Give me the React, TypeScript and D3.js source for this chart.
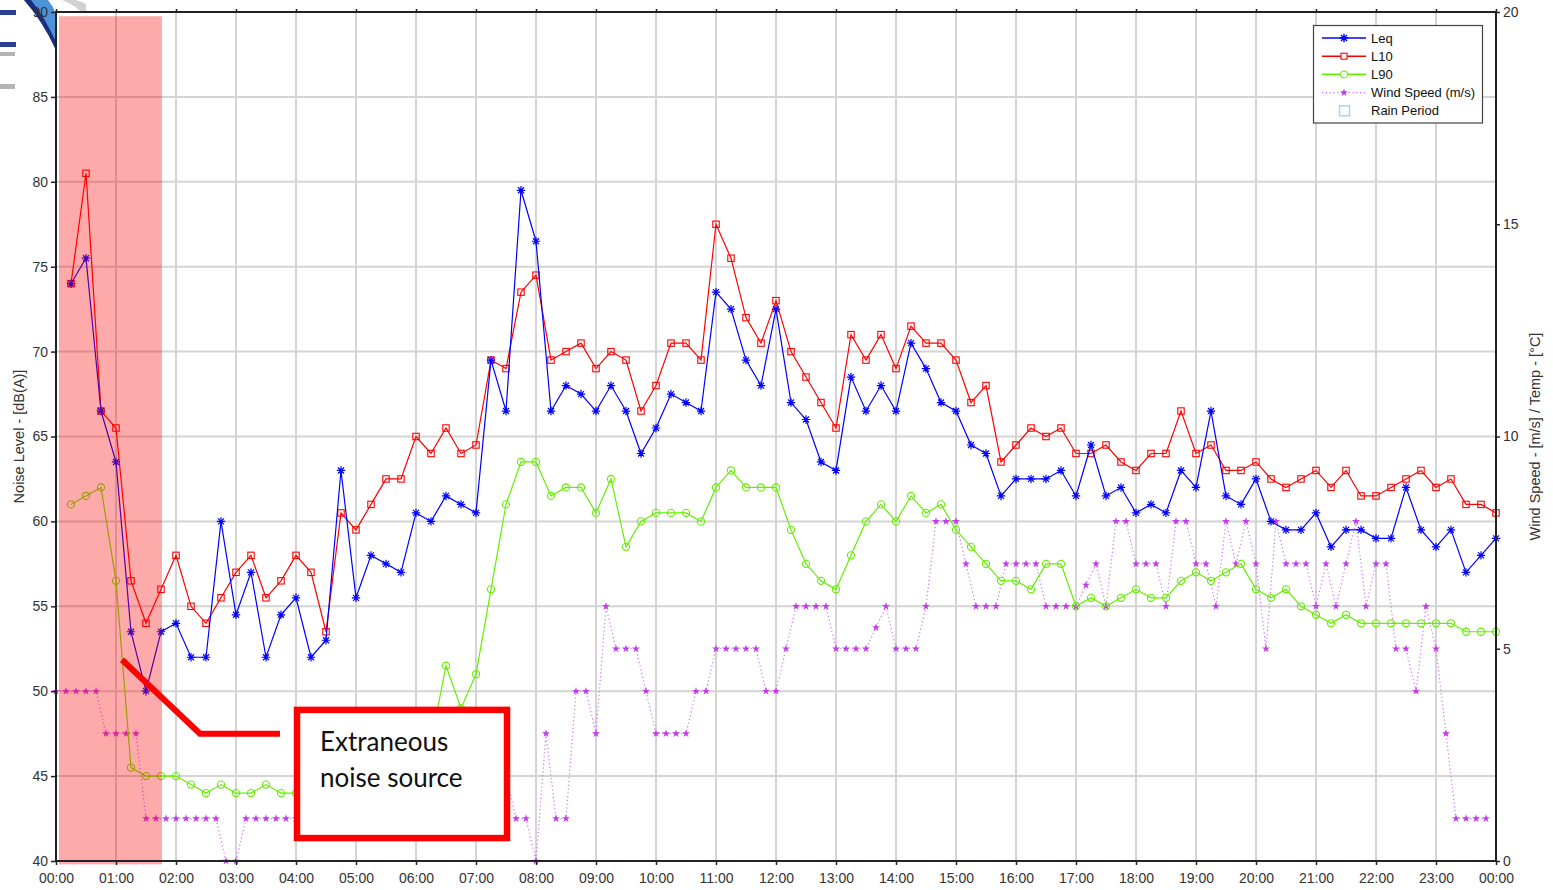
import { useEffect, useRef } from "react";
import * as d3 from "d3";

// 15-minute noise levels, first value at 00:15, last at 24:00
const leq = [
  74, 75.5, 66.5, 63.5, 53.5, 50, 53.5, 54, 52, 52, 60, 54.5,
  57, 52, 54.5, 55.5, 52, 53, 63, 55.5, 58, 57.5, 57, 60.5,
  60, 61.5, 61, 60.5, 69.5, 66.5, 79.5, 76.5, 66.5, 68, 67.5, 66.5,
  68, 66.5, 64, 65.5, 67.5, 67, 66.5, 73.5, 72.5, 69.5, 68, 72.5,
  67, 66, 63.5, 63, 68.5, 66.5, 68, 66.5, 70.5, 69, 67, 66.5,
  64.5, 64, 61.5, 62.5, 62.5, 62.5, 63, 61.5, 64.5, 61.5, 62, 60.5,
  61, 60.5, 63, 62, 66.5, 61.5, 61, 62.5, 60, 59.5, 59.5, 60.5,
  58.5, 59.5, 59.5, 59, 59, 62, 59.5, 58.5, 59.5, 57, 58, 59,
];
const l10 = [
  74, 80.5, 66.5, 65.5, 56.5, 54, 56, 58, 55, 54, 55.5, 57,
  58, 55.5, 56.5, 58, 57, 53.5, 60.5, 59.5, 61, 62.5, 62.5, 65,
  64, 65.5, 64, 64.5, 69.5, 69, 73.5, 74.5, 69.5, 70, 70.5, 69,
  70, 69.5, 66.5, 68, 70.5, 70.5, 69.5, 77.5, 75.5, 72, 70.5, 73,
  70, 68.5, 67, 65.5, 71, 69.5, 71, 69, 71.5, 70.5, 70.5, 69.5,
  67, 68, 63.5, 64.5, 65.5, 65, 65.5, 64, 64, 64.5, 63.5, 63,
  64, 64, 66.5, 64, 64.5, 63, 63, 63.5, 62.5, 62, 62.5, 63,
  62, 63, 61.5, 61.5, 62, 62.5, 63, 62, 62.5, 61, 61, 60.5,
];
const l90 = [
  61, 61.5, 62, 56.5, 45.5, 45, 45, 45, 44.5, 44, 44.5, 44,
  44, 44.5, 44, 44, 44.5, 44, 45, 44.5, 44, 44.5, 45, 44.5,
  47, 51.5, 49, 51, 56, 61, 63.5, 63.5, 61.5, 62, 62, 60.5,
  62.5, 58.5, 60, 60.5, 60.5, 60.5, 60, 62, 63, 62, 62, 62,
  59.5, 57.5, 56.5, 56, 58, 60, 61, 60, 61.5, 60.5, 61, 59.5,
  58.5, 57.5, 56.5, 56.5, 56, 57.5, 57.5, 55, 55.5, 55, 55.5, 56,
  55.5, 55.5, 56.5, 57, 56.5, 57, 57.5, 56, 55.5, 56, 55, 54.5,
  54, 54.5, 54, 54, 54, 54, 54, 54, 54, 53.5, 53.5, 53.5,
];
// 10-minute wind speed (m/s), 00:00 .. 23:50
const wind = [
  4, 4, 4, 4, 4, 3, 3, 3, 3, 1, 1, 1,
  1, 1, 1, 1, 1, 0, 0, 1, 1, 1, 1, 1,
  1, 1, 1, 1, 1, 1, 1, 1, 2, 2, 1, 1,
  1, 1, 2, 2, 1, 1, 1, 1, 2, 2, 1, 1,
  0, 3, 1, 1, 4, 4, 3, 6, 5, 5, 5, 4,
  3, 3, 3, 3, 4, 4, 5, 5, 5, 5, 5, 4,
  4, 5, 6, 6, 6, 6, 5, 5, 5, 5, 5.5, 6,
  5, 5, 5, 6, 8, 8, 8, 7, 6, 6, 6, 7,
  7, 7, 7, 6, 6, 6, 6, 6.5, 7, 6, 8, 8,
  7, 7, 7, 6, 8, 8, 7, 7, 6, 8, 7, 8,
  7, 5, 8, 7, 7, 7, 6, 7, 6, 7, 8, 6,
  7, 7, 5, 5, 4, 6, 5, 3, 1, 1, 1, 1,
];

const hourLabels = [
  "00:00", "01:00", "02:00", "03:00", "04:00", "05:00", "06:00", "07:00", "08:00",
  "09:00", "10:00", "11:00", "12:00", "13:00", "14:00", "15:00", "16:00", "17:00",
  "18:00", "19:00", "20:00", "21:00", "22:00", "23:00", "00:00",
];
const leftTicks = [40, 45, 50, 55, 60, 65, 70, 75, 80, 85, 90];
const rightTicks = [0, 5, 10, 15, 20];
const legendLabels = ["Leq", "L10", "L90", "Wind Speed (m/s)", "Rain Period"];
const noteLines = ["Extraneous", "noise source"];
// shaded period (minutes) and annotation anchors (minutes, dB)
const shadeMinutes = [3, 106];
const shadeLevels = [39.8, 89.75];
const leader: [number, number][] = [[66, 51.85], [144, 47.5], [224, 47.5]];
const noteBox = { m0: 241, m1: 451, v0: 48.9, v1: 41.35 };

const W = 1553;
const H = 890;
const M = { left: 56, right: 1496, top: 12, bottom: 861 };
const FONT = "'Liberation Sans', Arial, sans-serif";

const C = {
  leq: "#0000ff",
  l10: "#ff0000",
  l90: "#66ee00",
  wind: "#d070ff",
  windMark: "#c33ae8",
  grid: "#d4d4d4",
  axis: "#222",
  text: "#333",
};

const asterisk = "M-4.2,0H4.2M0,-4.2V4.2M-3,-3L3,3M-3,3L3,-3";

export default function App() {
  const svgRef = useRef<SVGSVGElement>(null);

  useEffect(() => {
    const svg = d3.select(svgRef.current!);
    svg.selectAll("*").remove();

    const x = d3.scaleLinear().domain([0, 1440]).range([M.left, M.right]);
    const yL = d3.scaleLinear().domain([40, 90]).range([M.bottom, M.top]);
    const yR = d3.scaleLinear().domain([0, 20]).range([M.bottom, M.top]);

    // logo peeking out behind the chart
    const logo = svg.append("g");
    logo.append("path")
      .attr("d", "M62,0 Q76,5 86,17 L86,4 Q81,1 75,0 Z")
      .attr("fill", "#d2d2d2");
    logo.append("path")
      .attr("d", "M24,0 Q42,20 56,50 L56,14 Q53,6 48,0 Z")
      .attr("fill", "#4d93d8");
    logo.append("path")
      .attr("d", "M24,0 Q42,20 56,50 L56,42 Q44,16 31,0 Z")
      .attr("fill", "#1d2e7a");
    logo.append("rect").attr("x", 0).attr("y", 10).attr("width", 16).attr("height", 5).attr("fill", "#2a3f95");
    logo.append("rect").attr("x", 0).attr("y", 42).attr("width", 16).attr("height", 5).attr("fill", "#2a3f95");
    logo.append("rect").attr("x", 0).attr("y", 52).attr("width", 15).attr("height", 4).attr("fill", "#b4b4b4");
    logo.append("rect").attr("x", 0).attr("y", 84).attr("width", 15).attr("height", 5).attr("fill", "#b4b4b4");

    svg.append("rect")
      .attr("x", M.left).attr("y", M.top)
      .attr("width", M.right - M.left).attr("height", M.bottom - M.top)
      .attr("fill", "#fff");

    // grid
    const hourMinutes = hourLabels.map((_, i) => i * 60);
    const grid = svg.append("g").attr("stroke", C.grid).attr("stroke-width", 2);
    grid.selectAll("line.v")
      .data(hourMinutes.slice(1, -1))
      .join("line")
      .attr("x1", (d) => x(d)).attr("x2", (d) => x(d))
      .attr("y1", M.top).attr("y2", M.bottom);
    grid.selectAll("line.h")
      .data(leftTicks.slice(1, -1))
      .join("line")
      .attr("class", "h")
      .attr("x1", M.left).attr("x2", M.right)
      .attr("y1", (d) => yL(d)).attr("y2", (d) => yL(d));

    const q = (arr: number[]) => arr.map((v, i) => [(i + 1) * 15, v] as [number, number]);
    const leqPts = q(leq);
    const l10Pts = q(l10);
    const l90Pts = q(l90);
    const windPts = wind.map((v, i) => [i * 10, v] as [number, number]);

    const lineL = d3.line<[number, number]>().x((d) => x(d[0])).y((d) => yL(d[1]));
    const lineR = d3.line<[number, number]>().x((d) => x(d[0])).y((d) => yR(d[1]));

    const plot = svg.append("g");

    // wind
    plot.append("path").datum(windPts).attr("d", lineR)
      .attr("fill", "none").attr("stroke", C.wind).attr("stroke-width", 1.2)
      .attr("stroke-dasharray", "1.2 2.6");
    const starPath = d3.symbol(d3.symbolStar, 20)()!;
    plot.append("g").selectAll("path").data(windPts).join("path")
      .attr("d", starPath)
      .attr("transform", (d) => `translate(${x(d[0])},${yR(d[1])})`)
      .attr("fill", C.windMark);

    // L90
    plot.append("path").datum(l90Pts).attr("d", lineL)
      .attr("fill", "none").attr("stroke", C.l90).attr("stroke-width", 1.2);
    plot.append("g").selectAll("circle").data(l90Pts).join("circle")
      .attr("cx", (d) => x(d[0])).attr("cy", (d) => yL(d[1])).attr("r", 3.6)
      .attr("fill", "none").attr("stroke", C.l90).attr("stroke-width", 1.1);

    // L10
    plot.append("path").datum(l10Pts).attr("d", lineL)
      .attr("fill", "none").attr("stroke", C.l10).attr("stroke-width", 1.2);
    plot.append("g").selectAll("rect").data(l10Pts).join("rect")
      .attr("x", (d) => x(d[0]) - 3.2).attr("y", (d) => yL(d[1]) - 3.2)
      .attr("width", 6.4).attr("height", 6.4)
      .attr("fill", "none").attr("stroke", C.l10).attr("stroke-width", 1.1);

    // Leq
    plot.append("path").datum(leqPts).attr("d", lineL)
      .attr("fill", "none").attr("stroke", C.leq).attr("stroke-width", 1.2);
    plot.append("g").selectAll("path").data(leqPts).join("path")
      .attr("d", asterisk)
      .attr("transform", (d) => `translate(${x(d[0])},${yL(d[1])})`)
      .attr("fill", "none").attr("stroke", C.leq).attr("stroke-width", 1.2);

    // shaded period, laid over the data
    svg.append("rect")
      .attr("x", x(shadeMinutes[0])).attr("y", yL(shadeLevels[1]))
      .attr("width", x(shadeMinutes[1]) - x(shadeMinutes[0]))
      .attr("height", yL(shadeLevels[0]) - yL(shadeLevels[1]))
      .attr("fill", "#ff0000").attr("fill-opacity", 0.333);

    // frame
    svg.append("rect")
      .attr("x", M.left).attr("y", M.top)
      .attr("width", M.right - M.left).attr("height", M.bottom - M.top)
      .attr("fill", "none").attr("stroke", C.axis).attr("stroke-width", 2);

    const style = (sel: d3.Selection<SVGGElement, unknown, null, undefined>) => {
      sel.select(".domain").remove();
      sel.selectAll("line").attr("stroke", C.axis).attr("stroke-width", 1.5);
      sel.selectAll("text").attr("fill", C.text).style("font-family", FONT).style("font-size", "14px");
    };

    svg.append("g").attr("transform", `translate(${M.left},0)`)
      .call(d3.axisLeft(yL).tickValues(leftTicks).tickSize(5).tickPadding(3).tickFormat(d3.format("d")))
      .call(style);
    svg.append("g").attr("transform", `translate(${M.right},0)`)
      .call(d3.axisRight(yR).tickValues(rightTicks).tickSize(4).tickPadding(3).tickFormat(d3.format("d")))
      .call(style);
    svg.append("g").attr("transform", `translate(0,${M.bottom})`)
      .call(d3.axisBottom(x).tickValues(hourMinutes).tickSize(4).tickPadding(8.5)
        .tickFormat((_, i) => hourLabels[i]))
      .call(style);
    svg.append("g").attr("transform", `translate(0,${M.top})`)
      .call(d3.axisTop(x).tickValues(hourMinutes).tickSize(3).tickFormat(() => ""))
      .call(style);

    // axis titles
    svg.append("text")
      .attr("transform", `translate(23.5,${(M.top + M.bottom) / 2}) rotate(-90)`)
      .attr("text-anchor", "middle").attr("fill", C.text)
      .style("font-family", FONT).style("font-size", "14.5px")
      .text("Noise Level - [dB(A)]");
    svg.append("text")
      .attr("transform", `translate(1540,${(M.top + M.bottom) / 2}) rotate(-90)`)
      .attr("text-anchor", "middle").attr("fill", C.text)
      .style("font-family", FONT).style("font-size", "14.5px")
      .text("Wind Speed - [m/s] / Temp - [°C]");

    // annotation
    svg.append("path").datum(leader).attr("d", lineL)
      .attr("fill", "none").attr("stroke", "#ff0000").attr("stroke-width", 6);
    svg.append("rect")
      .attr("x", x(noteBox.m0)).attr("y", yL(noteBox.v0))
      .attr("width", x(noteBox.m1) - x(noteBox.m0))
      .attr("height", yL(noteBox.v1) - yL(noteBox.v0))
      .attr("fill", "#fff").attr("stroke", "#ff0000").attr("stroke-width", 6.5);
    svg.append("g").selectAll("text").data(noteLines).join("text")
      .attr("x", x(noteBox.m0) + 23)
      .attr("y", (_, i) => yL(noteBox.v0) + 41 + i * 36)
      .attr("fill", "#111")
      .style("font-family", "Lato, 'Open Sans', sans-serif").style("font-size", "26px")
      .text((d) => d);

    // legend
    const lg = svg.append("g").attr("transform", "translate(1313,25)");
    lg.append("rect").attr("x", 0.5).attr("y", 0.5).attr("width", 169).attr("height", 97.5)
      .attr("fill", "#fff").attr("stroke", "#444").attr("stroke-width", 1.2);
    const rowY = (i: number) => 13 + i * 18.2;
    legendLabels.forEach((label, i) => {
      const row = lg.append("g").attr("transform", `translate(0,${rowY(i)})`);
      if (i === 0) {
        row.append("line").attr("x1", 9).attr("x2", 53).attr("stroke", C.leq).attr("stroke-width", 1.6);
        row.append("path").attr("d", asterisk).attr("transform", "translate(31,0)")
          .attr("stroke", C.leq).attr("stroke-width", 1.4).attr("fill", "none");
      } else if (i === 1) {
        row.append("line").attr("x1", 9).attr("x2", 53).attr("stroke", C.l10).attr("stroke-width", 1.6);
        row.append("rect").attr("x", 28).attr("y", -3).attr("width", 6).attr("height", 6)
          .attr("fill", "#fff").attr("stroke", C.l10).attr("stroke-width", 1.1);
      } else if (i === 2) {
        row.append("line").attr("x1", 9).attr("x2", 53).attr("stroke", C.l90).attr("stroke-width", 1.6);
        row.append("circle").attr("cx", 31).attr("r", 3.4)
          .attr("fill", "#fff").attr("stroke", C.l90).attr("stroke-width", 1.1);
      } else if (i === 3) {
        row.append("line").attr("x1", 9).attr("x2", 53).attr("stroke", C.wind)
          .attr("stroke-width", 1.3).attr("stroke-dasharray", "1.2 2.6");
        row.append("path").attr("d", starPath).attr("transform", "translate(31,0)").attr("fill", C.windMark);
      } else {
        row.append("rect").attr("x", 26.5).attr("y", -5).attr("width", 10).attr("height", 10)
          .attr("fill", "#fff").attr("stroke", "#8fd3f5").attr("stroke-width", 1.3);
      }
      row.append("text").attr("x", 58).attr("dy", "0.35em").attr("fill", "#111")
        .style("font-family", FONT).style("font-size", "13px").text(label);
    });
  }, []);

  return (
    <svg
      ref={svgRef}
      width={W}
      height={H}
      viewBox={`0 0 ${W} ${H}`}
      style={{ position: "absolute", left: 0, top: 0, background: "#fff" }}
    />
  );
}
